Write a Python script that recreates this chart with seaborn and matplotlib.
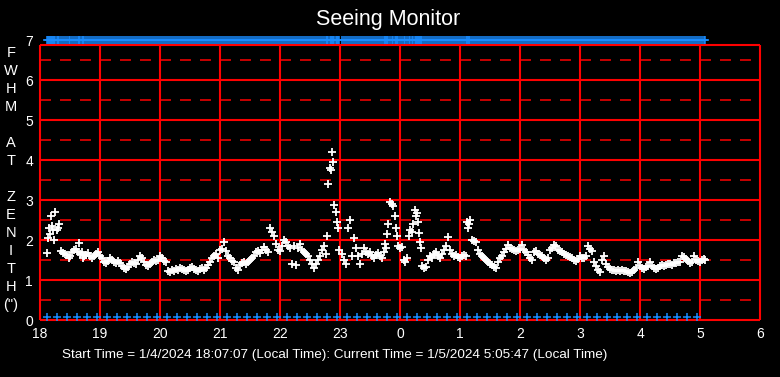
import matplotlib
matplotlib.use("Agg")
import matplotlib.pyplot as plt
import seaborn as sns

# ---------------------------------------------------------------
# Data: (minutes after 18:00 local time, FWHM at zenith in arcsec),
# one list per hour of the night
# ---------------------------------------------------------------
hour_18 = [(7, 1.68), (8, 2.05), (9, 2.30), (10, 2.15), (11, 2.60), (12, 2.35), (13, 2.25),
           (14, 2.00), (15, 2.70), (17, 2.25), (18, 2.30), (19, 2.40), (21, 1.72), (23, 1.68),
           (25, 1.65), (27, 1.62), (29, 1.55), (30, 1.60), (32, 1.70), (34, 1.75), (36, 1.78),
           (39, 1.92), (38, 1.70), (40, 1.65), (42, 1.70), (43, 1.55), (44, 1.60), (46, 1.62),
           (48, 1.68), (50, 1.60), (52, 1.55), (54, 1.60), (56, 1.65), (58, 1.70)]
hour_19 = [(60, 1.60), (62, 1.55), (64, 1.45), (66, 1.43), (68, 1.48), (70, 1.55), (72, 1.50),
           (74, 1.45), (76, 1.42), (78, 1.48), (80, 1.42), (82, 1.35), (84, 1.30), (86, 1.27),
           (88, 1.32), (90, 1.40), (92, 1.45), (94, 1.43), (96, 1.40), (98, 1.50), (100, 1.60),
           (102, 1.55), (104, 1.45), (106, 1.38), (108, 1.35), (110, 1.40), (112, 1.45),
           (114, 1.50), (116, 1.47), (118, 1.50)]
hour_20 = [(120, 1.60), (122, 1.55), (124, 1.48), (126, 1.45), (128, 1.22), (130, 1.20),
           (132, 1.25), (134, 1.23), (136, 1.28), (138, 1.25), (140, 1.30), (142, 1.27),
           (144, 1.25), (146, 1.22), (148, 1.25), (150, 1.30), (152, 1.33), (154, 1.28),
           (156, 1.25), (158, 1.22), (160, 1.27), (162, 1.30), (164, 1.25), (166, 1.30),
           (168, 1.37), (170, 1.45), (172, 1.55), (174, 1.60), (176, 1.65), (178, 1.55)]
hour_21 = [(180, 1.75), (182, 1.78), (184, 1.96), (186, 1.72), (188, 1.60), (190, 1.55),
           (192, 1.48), (194, 1.45), (196, 1.30), (198, 1.25), (200, 1.38), (202, 1.42),
           (204, 1.45), (206, 1.40), (208, 1.45), (210, 1.50), (212, 1.55), (214, 1.60),
           (216, 1.70), (218, 1.72), (220, 1.68), (222, 1.75), (224, 1.82), (226, 1.75),
           (228, 1.70), (230, 2.30), (232, 2.20), (234, 2.10), (236, 1.90), (238, 1.75)]
hour_22 = [(240, 1.72), (242, 1.85), (244, 2.00), (246, 1.95), (248, 1.85), (250, 1.80),
           (252, 1.40), (254, 1.84), (256, 1.38), (258, 1.80), (260, 1.90), (262, 1.75),
           (264, 1.70), (266, 1.65), (268, 1.60), (270, 1.50), (272, 1.40), (274, 1.30),
           (276, 1.40), (278, 1.50), (280, 1.60), (282, 1.75), (284, 1.85), (286, 1.65),
           (287, 2.09), (288, 3.39), (290, 3.80), (291, 3.75), (292, 4.19), (293, 3.96),
           (294, 2.88), (296, 2.70), (297, 2.45), (298, 2.30), (299, 1.75)]
hour_23 = [(302, 1.65), (304, 1.50), (306, 1.40), (308, 2.30), (310, 2.50), (312, 1.60),
           (314, 2.04), (316, 1.80), (318, 1.60), (320, 1.40), (322, 1.65), (324, 1.80),
           (326, 1.70), (328, 1.65), (330, 1.70), (332, 1.60), (334, 1.55), (336, 1.62),
           (338, 1.68), (340, 1.60), (342, 1.55), (344, 1.70), (345, 1.90), (346, 1.80),
           (347, 2.16), (348, 2.40), (350, 2.95), (352, 2.90), (353, 2.85), (355, 2.60),
           (356, 2.30), (357, 2.10), (358, 1.85)]
hour_00 = [(360, 1.80), (362, 1.82), (364, 1.50), (365, 1.45), (367, 1.55), (369, 2.10),
           (370, 2.25), (372, 2.20), (373, 2.40), (375, 2.76), (376, 2.60), (377, 2.68),
           (378, 2.45), (379, 2.17), (380, 1.96), (381, 1.80), (382, 1.35), (384, 1.30),
           (386, 1.33), (388, 1.50), (390, 1.60), (392, 1.55), (394, 1.65), (396, 1.70),
           (398, 1.60), (400, 1.55), (402, 1.65), (404, 1.75), (406, 1.85), (408, 2.08),
           (410, 1.75), (412, 1.65), (414, 1.60), (416, 1.62), (418, 1.58)]
hour_01 = [(420, 1.55), (422, 1.60), (424, 1.62), (426, 1.60), (427, 2.45), (428, 2.30),
           (429, 2.40), (430, 2.50), (432, 2.00), (434, 1.98), (436, 1.95), (438, 1.75),
           (440, 1.65), (442, 1.60), (444, 1.55), (446, 1.50), (448, 1.45), (450, 1.40),
           (452, 1.37), (454, 1.33), (456, 1.30), (458, 1.45), (460, 1.55), (462, 1.60),
           (464, 1.70), (466, 1.78), (468, 1.88), (470, 1.80), (472, 1.78), (474, 1.75),
           (476, 1.72), (478, 1.75)]
hour_02 = [(480, 1.78), (482, 1.88), (484, 1.75), (486, 1.70), (488, 1.62), (490, 1.55),
           (492, 1.50), (494, 1.70), (496, 1.72), (498, 1.65), (500, 1.62), (502, 1.60),
           (504, 1.55), (506, 1.50), (508, 1.55), (510, 1.75), (512, 1.80), (514, 1.88),
           (516, 1.85), (518, 1.75), (520, 1.72), (522, 1.70), (524, 1.65), (526, 1.62),
           (528, 1.60), (530, 1.58), (532, 1.55), (534, 1.50), (536, 1.48), (538, 1.52)]
hour_03 = [(540, 1.60), (542, 1.55), (544, 1.55), (546, 1.60), (548, 1.85), (550, 1.78),
           (552, 1.72), (554, 1.45), (556, 1.35), (558, 1.25), (560, 1.20), (562, 1.50),
           (564, 1.60), (566, 1.40), (568, 1.32), (570, 1.28), (572, 1.25), (574, 1.25),
           (576, 1.22), (578, 1.25), (580, 1.22), (582, 1.25), (584, 1.23), (586, 1.22),
           (588, 1.20), (590, 1.17), (592, 1.20), (594, 1.25), (596, 1.30), (598, 1.45)]
hour_04 = [(600, 1.35), (602, 1.30), (604, 1.28), (606, 1.32), (608, 1.35), (610, 1.45),
           (612, 1.35), (614, 1.30), (616, 1.28), (618, 1.30), (620, 1.35), (622, 1.37),
           (624, 1.35), (626, 1.38), (628, 1.40), (630, 1.40), (632, 1.38), (634, 1.42),
           (636, 1.42), (638, 1.45), (640, 1.45), (642, 1.60), (644, 1.58), (646, 1.52),
           (648, 1.48), (650, 1.42), (652, 1.45), (654, 1.60), (656, 1.50), (658, 1.48)]
hour_05 = [(660, 1.45), (662, 1.50), (664, 1.52), (665, 1.50)]

# 10-minute status marks along the bottom (minutes after 18:00)
status_min = [
    7, 17, 27, 37, 47, 57, 67, 77, 87, 97, 107, 117, 127, 137, 147, 157, 167, 177,
    187, 197, 207, 217, 227, 237, 247, 257, 267, 277, 287, 297, 307, 317, 327, 337,
    347, 357, 367, 377, 387, 397, 407, 417, 427, 437, 447, 457, 467, 477, 487, 497,
    507, 517, 527, 537, 547, 557, 567, 577, 587, 597, 607, 617, 627, 637, 647, 657,
]

hour_ticks = [0, 60, 120, 180, 240, 300, 360, 420, 480, 540, 600, 660, 720]
hour_labels = ["18", "19", "20", "21", "22", "23", "0", "1", "2", "3", "4", "5", "6"]
ylabel_chars = ["F", "W", "H", "M", "", "A", "T", "", "Z", "E", "N", "I", "T", "H", "(\")"]

title = "Seeing Monitor"
footer = ("Start Time = 1/4/2024 18:07:07 (Local Time): "
          "Current Time = 1/5/2024 5:05:47 (Local Time)")

RED = "#ff0000"
BLUE = "#1a8cff"

samples = (hour_18 + hour_19 + hour_20 + hour_21 + hour_22 + hour_23 + hour_00
           + hour_01 + hour_02 + hour_03 + hour_04 + hour_05)
t_min = [p[0] for p in samples]
fwhm = [p[1] for p in samples]

sns.set_style("dark")
plt.rcParams["font.family"] = ["Liberation Sans", "DejaVu Sans"]
plt.rcParams["lines.scale_dashes"] = False

W, H = 780, 377
fig = plt.figure(figsize=(W / 100, H / 100), dpi=100, facecolor="black")
# 0 -> 7 spans 280 px, bottom edge 320 px from the top
ax = fig.add_axes([40 / W, (H - 320) / H, 720 / W, 280 / H])
ax.set_facecolor("black")
ax.set_xlim(0, 720)
ax.set_ylim(0, 7)
for s in ax.spines.values():
    s.set_visible(False)
ax.grid(False)

frame_top = 6.875
# dashed half-unit lines
for yv in [0.5, 1.5, 2.5, 3.5, 4.5, 5.5, 6.5]:
    ax.hlines(yv, 0, 720, color=RED, lw=1.1, linestyles=(0, (7.9, 6.5)), zorder=1)
# solid grid and frame
for yv in [0, 1, 2, 3, 4, 5, 6, frame_top]:
    ax.hlines(yv, 0, 720, color=RED, lw=1.5, zorder=1, clip_on=False)
for xv in hour_ticks:
    ax.vlines(xv, 0, frame_top, color=RED, lw=1.5, zorder=1, clip_on=False)

sns.scatterplot(x=t_min, y=fwhm, marker="+", s=34, color="white",
                linewidth=1.3, ax=ax, zorder=3, legend=False)
sns.scatterplot(x=t_min, y=[7] * len(t_min), marker="+", s=30, color=BLUE,
                linewidth=1.1, ax=ax, zorder=3, legend=False, clip_on=False)
sns.scatterplot(x=status_min, y=[0.07] * len(status_min), marker="+", s=30,
                color=BLUE, linewidth=1.1, ax=ax, zorder=3, legend=False,
                clip_on=False)

ax.set_xticks(hour_ticks)
ax.set_xticklabels(hour_labels)
ax.set_yticks(range(8))
ax.tick_params(colors="white", labelsize=10, length=0, pad=5)
ax.set_xlabel("")
ax.set_ylabel("")

fig.text(388 / W, 1 - 20 / H, title, color="white", fontsize=15.5,
         ha="center", va="center")
fig.text(62 / W, 1 - 355 / H, footer, color="white", fontsize=9.7,
         ha="left", va="center")
for i, ch in enumerate(ylabel_chars):
    fig.text(11 / W, 1 - (53 + 18 * i) / H, ch, color="white", fontsize=10.5,
             ha="center", va="center")

fig.savefig("out.png", dpi=100, facecolor="black")
